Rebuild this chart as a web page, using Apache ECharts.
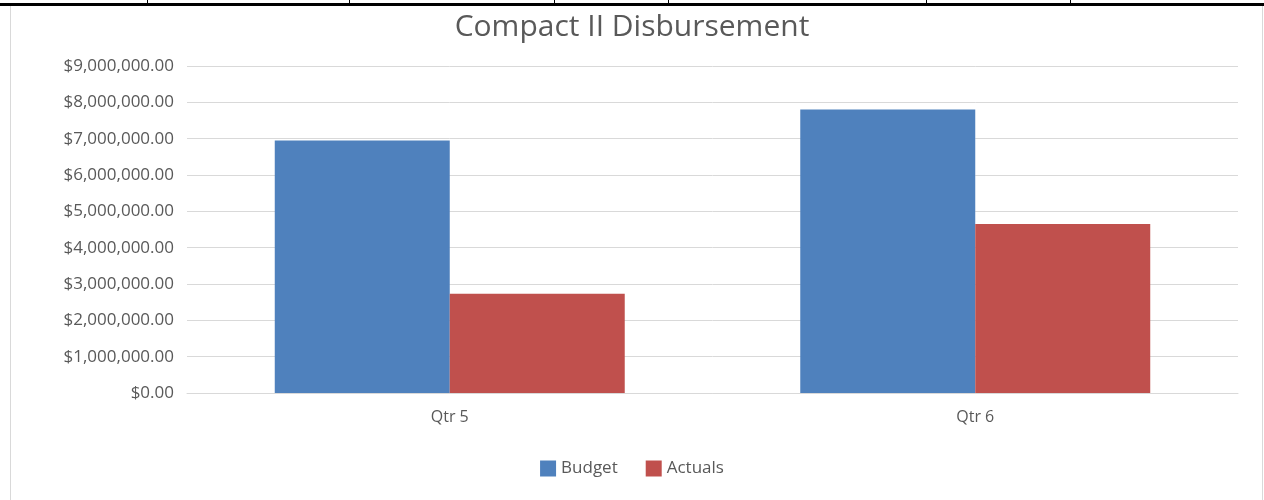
<!DOCTYPE html>
<html>
<head>
<meta charset="utf-8">
<script src="https://cdn.jsdelivr.net/npm/echarts@6/dist/echarts.min.js"></script>
<style>
  html, body { margin: 0; padding: 0; background: #fff; }
  #chart { width: 1264px; height: 500px; }
</style>
</head>
<body>
<div id="chart"></div>
<script>
// 차트 데이터
const categories = ["Qtr 5", "Qtr 6"];
const budget = [6950000, 7800000];
const actuals = [2730000, 4650000];
const seriesNames = ["Budget", "Actuals"];

// 위쪽 표 테두리의 세로선 위치
const tableCols = [147, 349, 554, 668, 926, 1070];

const chart = echarts.init(document.getElementById("chart"));

const money = (v) =>
  "$" + v.toLocaleString("en-US", { minimumFractionDigits: 2, maximumFractionDigits: 2 });

const textColor = "#595959";
const font = "Open Sans";

const borders = [
  // 위쪽 굵은 검정선
  { type: "rect", shape: { x: 0, y: 3, width: 1264, height: 3 }, style: { fill: "#000" } },
  // 차트 영역 테두리
  { type: "line", shape: { x1: 10.5, y1: 6, x2: 10.5, y2: 500 }, style: { stroke: "#d9d9d9", lineWidth: 1 } },
  { type: "line", shape: { x1: 1262.5, y1: 6, x2: 1262.5, y2: 500 }, style: { stroke: "#d9d9d9", lineWidth: 1 } },
].concat(
  tableCols.map((x) => ({
    type: "rect",
    shape: { x: x, y: 0, width: 1, height: 4 },
    style: { fill: "#000" },
  }))
);

const option = {
  animation: false,
  title: {
    text: "Compact II Disbursement",
    left: "center",
    top: 7,
    textStyle: {
      color: textColor,
      fontFamily: font,
      fontWeight: "normal",
      fontSize: 30,
    },
  },
  legend: {
    data: seriesNames,
    top: 455,
    left: "center",
    icon: "rect",
    itemWidth: 16,
    itemHeight: 16,
    itemGap: 28,
    textStyle: { color: textColor, fontFamily: font, fontSize: 17 },
  },
  grid: {
    left: 187,
    right: 26,
    top: 66,
    bottom: 107,
  },
  xAxis: {
    type: "category",
    data: categories,
    axisTick: { show: false },
    axisLine: { lineStyle: { color: "#d9d9d9" } },
    axisLabel: {
      color: textColor,
      fontFamily: font,
      fontSize: 16,
      margin: 16,
    },
  },
  yAxis: {
    type: "value",
    min: 0,
    max: 9000000,
    interval: 1000000,
    axisLine: { show: false },
    axisTick: { show: false },
    splitLine: { lineStyle: { color: "#d9d9d9", width: 1 } },
    axisLabel: {
      color: textColor,
      fontFamily: font,
      fontSize: 17,
      margin: 13,
      formatter: money,
    },
  },
  series: [
    {
      name: seriesNames[0],
      type: "bar",
      data: budget,
      color: "#4F81BD",
      barWidth: "33.3%",
      barGap: "0%",
    },
    {
      name: seriesNames[1],
      type: "bar",
      data: actuals,
      color: "#C0504D",
      barWidth: "33.3%",
      barGap: "0%",
    },
  ],
  graphic: borders,
};

chart.setOption(option);
</script>
</body>
</html>
